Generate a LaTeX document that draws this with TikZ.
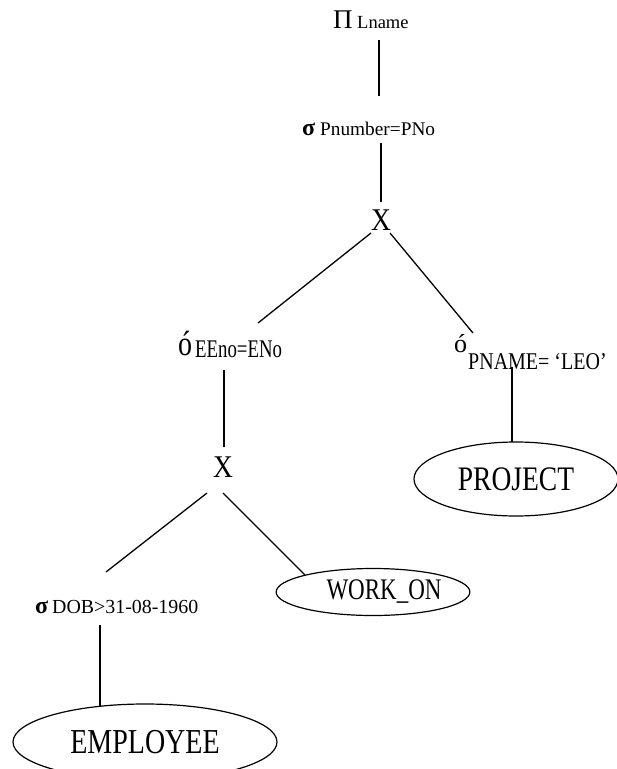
\documentclass[tikz,border=0pt]{standalone}
\usepackage{fontspec}
\usepackage{graphicx}
\setmainfont{Liberation Serif}
\usetikzlibrary{shapes.geometric}
\newcommand{\fs}[1]{\fontsize{#1}{#1}\selectfont}
\newcommand{\vst}[2]{\scalebox{1}[#1]{#2}}

\begin{document}
\begin{tikzpicture}[x=1pt,y=1pt,
  edge/.style={line width=1.3pt, line cap=butt},
  lbl/.style={inner sep=0pt, anchor=base west},
  opx/.style={inner sep=0pt, anchor=center, font=\fs{27.5}},
  rel/.style={ellipse, draw, line width=1.2pt, inner sep=0pt, font=\fs{27.5}},
]
\useasboundingbox (0,0) rectangle (617,-769);
\clip (0,0) rectangle (617,-769);

% operator labels
\node[lbl] (pi) at (333,-28) {\makebox[24pt][l]{\fs{27}Π}\fs{18.5}Lname};
\node[lbl] (s1) at (302,-135) {\makebox[18pt][l]{\fs{24}\bfseries σ}\fs{19.3}Pnumber=PNo};
\node[opx] (x1) at (381,-220) {\vst{1.15}{X}};
\node[lbl] (o1) at (178,-355) {\makebox[17pt][l]{\vst{1.25}{\fs{28}ó}}\raisebox{-2.7pt}{\vst{1.35}{\fs{18.8}EEno=ENo}}};
\node[lbl] (o2) at (454,-352) {\makebox[14pt][l]{\fs{26}ó}\raisebox{-17pt}{\vst{1.2}{\fs{20}PNAME= ‘LEO’}}};
\node[opx] (x2) at (223,-467) {\vst{1.15}{X}};
\node[lbl] (s3) at (35,-613) {\makebox[17pt][l]{\fs{24}\bfseries σ}\fs{19.9}DOB>31-08-1960};

% relations
\node[rel, minimum width=204pt, minimum height=74pt] (proj) at (516,-479) {\vst{1.25}{PROJECT}};
\node[rel, minimum width=193pt, minimum height=47pt] (work) at (373,-592) {\hspace*{22pt}\vst{1.3}{\fs{23}WORK\_ON}};
\node[rel, minimum width=264pt, minimum height=76pt] (emp) at (145,-742) {\vst{1.25}{\fs{28}EMPLOYEE}};

% tree edges
\draw[edge] ([shift={(46,-12)}]pi.base west) -- ([shift={(77,39)}]s1.base west);
\draw[edge] ([shift={(79,-8)}]s1.base west) -- ([shift={(0,18)}]x1.center);
\draw[edge] ([shift={(-10,-13)}]x1.center) -- ([shift={(80,32)}]o1.base west);
\draw[edge] ([shift={(9,-13)}]x1.center) -- ([shift={(19,19)}]o2.base west);
\draw[edge] ([shift={(46,-15)}]o1.base west) -- ([shift={(1,20)}]x2.center);
\draw[edge] ([shift={(58,-15)}]o2.base west) -- ([shift={(-4,37)}]proj.center);
\draw[edge] ([shift={(-16,-26)}]x2.center) -- ([shift={(71,41)}]s3.base west);
\draw[edge] ([shift={(0,-26)}]x2.center) -- ([shift={(-68,17)}]work.center);
\draw[edge] ([shift={(65,-12)}]s3.base west) -- ([shift={(-45,36)}]emp.center);
\end{tikzpicture}
\end{document}
